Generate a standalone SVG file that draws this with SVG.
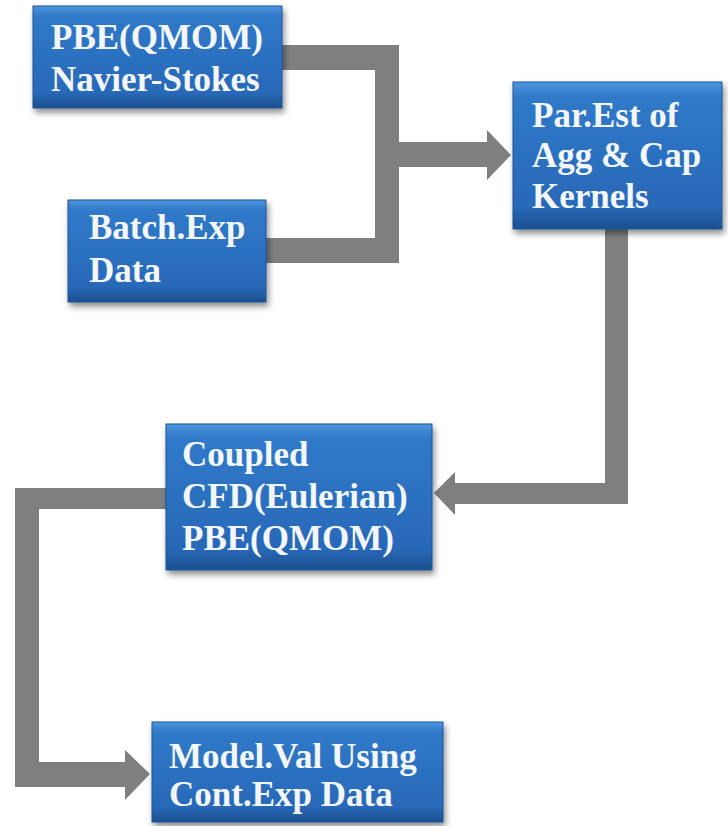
<svg xmlns="http://www.w3.org/2000/svg" width="728" height="826" viewBox="0 0 728 826">
  <defs>
    <linearGradient id="blue" x1="0" y1="0" x2="0" y2="1">
      <stop offset="0" stop-color="#4f95de"/>
      <stop offset="0.1" stop-color="#3079c9"/>
      <stop offset="0.85" stop-color="#2869b8"/>
      <stop offset="1" stop-color="#1c4f8f"/>
    </linearGradient>
    <filter id="shadow" x="-10%" y="-10%" width="125%" height="130%">
      <feDropShadow dx="2" dy="4" stdDeviation="3" flood-color="#000" flood-opacity="0.45"/>
    </filter>
  </defs>
  <style>
    .box { fill: url(#blue); stroke: #1d5596; stroke-width: 1; filter: url(#shadow); }
    .lbl { font-family: 'Liberation Serif', 'Times New Roman', serif; font-weight: 700; font-size: 35px; fill: #f3f7fb; }
    .conn { fill: #7f7f7f; }
  </style>
  <rect width="728" height="826" fill="#ffffff"/>

  <g id="connectors">
    <path class="conn" d="M282,45 H399 V263 H265 V238 H375 V70 H282 Z"/>
    <path class="conn" d="M399,142 H487 V130 L511,155 L487,180 V167 H399 Z"/>
    <path class="conn" d="M605,229 H628 V504 H455 V515 L434,493 L455,472 V483 H605 Z"/>
    <path class="conn" d="M166,488 V509 H39 V762 H125 V750 L150,774 L125,800 V787 H15 V488 Z"/>
  </g>

  <g id="node-pbe-ns">
    <rect class="box" x="33" y="6" width="249" height="102"/>
    <text class="lbl" x="51" y="49">PBE(QMOM)</text>
    <text class="lbl" x="51" y="91">Navier-Stokes</text>
  </g>

  <g id="node-batch">
    <rect class="box" x="68" y="200" width="198" height="102"/>
    <text class="lbl" x="89" y="239">Batch.Exp</text>
    <text class="lbl" x="89" y="282">Data</text>
  </g>

  <g id="node-parest">
    <rect class="box" x="513" y="82" width="209" height="147"/>
    <text class="lbl" x="532" y="127">Par.Est of</text>
    <text class="lbl" x="532" y="167">Agg &amp; Cap</text>
    <text class="lbl" x="532" y="208">Kernels</text>
  </g>

  <g id="node-coupled">
    <rect class="box" x="166" y="424" width="266" height="146"/>
    <text class="lbl" x="182" y="466">Coupled</text>
    <text class="lbl" x="182" y="508">CFD(Eulerian)</text>
    <text class="lbl" x="182" y="550">PBE(QMOM)</text>
  </g>

  <g id="node-modelval">
    <rect class="box" x="152" y="722" width="291" height="100"/>
    <text class="lbl" x="169" y="768">Model.Val Using</text>
    <text class="lbl" x="169" y="806">Cont.Exp Data</text>
  </g>
</svg>
